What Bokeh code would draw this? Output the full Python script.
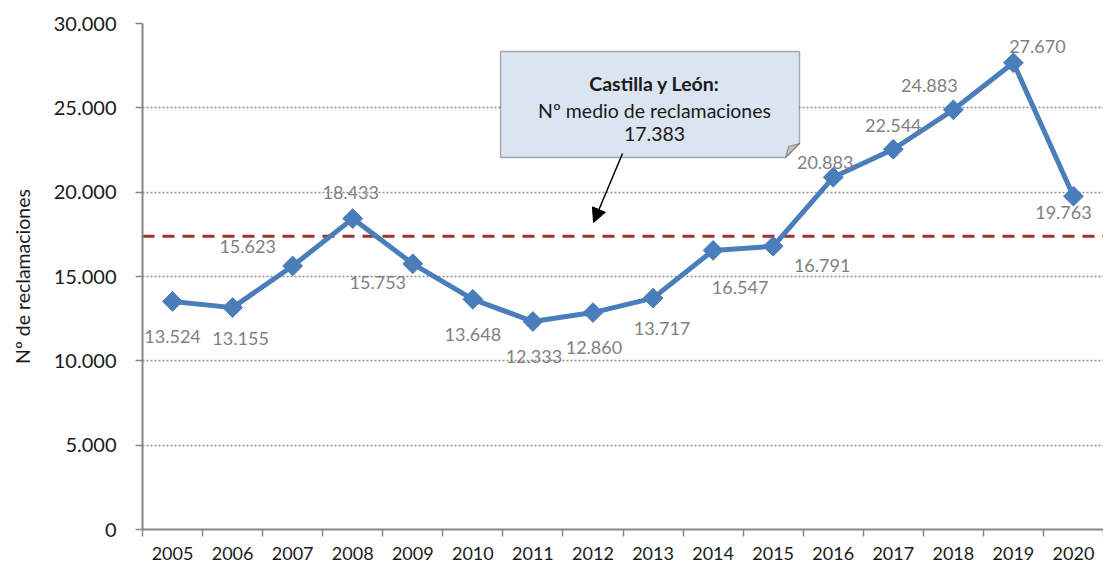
import numpy as np
from bokeh.plotting import figure
from bokeh.models import (Range1d, FixedTicker, Span, ColumnDataSource, Label,
                          Arrow, NormalHead, PolyAnnotation)
from bokeh.core.properties import value
from bokeh.embed import file_html
from bokeh.resources import INLINE

# ---------------- data ----------------
years = ["2005", "2006", "2007", "2008", "2009", "2010", "2011", "2012",
         "2013", "2014", "2015", "2016", "2017", "2018", "2019", "2020"]
reclamaciones = [13524, 13155, 15623, 18433, 15753, 13648, 12333, 12860,
                 13717, 16547, 16791, 20883, 22544, 24883, 27670, 19763]
y_ticks = [0, 5000, 10000, 15000, 20000, 25000, 30000]

# label placement (pixel offsets from each point; styling only)
label_dx = [0, 8, -45, -2, -35, 0, 1, 1, 9, 27, 49, -8, 0, -24, 24, -10]
label_dy = [35, 31, -19, -26, 19, 35, 35, 35, 30, 37, 19, -15, -24, -24, -16, 16]


def fmt(v):
    return f"{int(round(v)):,}".replace(",", ".")


mean_value = sum(reclamaciones) / len(reclamaciones)
idx = list(range(len(years)))

FONT = "Lato"
BLUE = "#4A7EBB"

src = ColumnDataSource(dict(
    x=idx, y=reclamaciones,
    lab=[fmt(v) for v in reclamaciones],
    dx=label_dx, dy=label_dy,
))

p = figure(width=1103, height=565, output_backend="svg", toolbar_location=None,
           x_range=Range1d(-0.5, len(years) - 0.5), y_range=Range1d(0, 30000),
           min_border_left=142, min_border_right=0, min_border_top=23,
           min_border_bottom=36)
p.outline_line_color = None
p.background_fill_color = "white"
p.border_fill_color = "white"

# axes
yax = p.yaxis[0]
yax.ticker = FixedTicker(ticks=y_ticks)
yax.major_label_overrides = {t: fmt(t) for t in y_ticks}
yax.axis_line_color = "#868686"
yax.axis_line_width = 2
yax.major_tick_line_color = "#868686"
yax.major_tick_line_width = 1.5
yax.major_tick_in = 0
yax.major_tick_out = 7
yax.minor_tick_line_color = None
yax.major_label_text_font = FONT
yax.major_label_text_font_size = "20px"
yax.major_label_text_color = "#1a1a1a"
yax.major_label_standoff = 19
yax.axis_label = "Nº de reclamaciones"
yax.axis_label_text_font = FONT
yax.axis_label_text_font_size = "19.5px"
yax.axis_label_text_font_style = "normal"
yax.axis_label_text_color = "#1a1a1a"
yax.axis_label_standoff = 17

xax = p.xaxis[0]
xax.ticker = FixedTicker(ticks=idx, minor_ticks=[i - 0.5 for i in range(len(years) + 1)])
xax.major_label_overrides = {i: y for i, y in zip(idx, years)}
xax.axis_line_color = "#868686"
xax.axis_line_width = 2
xax.major_tick_line_color = None
xax.major_tick_in = 0
xax.major_tick_out = 0
xax.minor_tick_line_color = "#868686"
xax.minor_tick_line_width = 1.5
xax.minor_tick_in = 0
xax.minor_tick_out = 7
xax.major_label_text_font = FONT
xax.major_label_text_font_size = "18px"
xax.major_label_text_color = "#1a1a1a"
xax.major_label_standoff = 10

p.xgrid.visible = False
p.ygrid.grid_line_color = "#8C8C8C"
p.ygrid.grid_line_dash = "2 2"
p.ygrid.grid_line_width = 1.3

# mean line
p.add_layout(Span(location=mean_value, dimension="width", line_color="#A0322D",
                  line_width=3, line_dash="12 8", level="underlay"))

# series
p.line("x", "y", source=src, line_color=BLUE, line_width=5)
p.scatter("x", "y", source=src, marker="square", angle=np.pi / 4, size=14,
          fill_color=BLUE, line_color=BLUE)
p.text("x", "y", text="lab", source=src, x_offset="dx", y_offset="dy",
       text_font=value(FONT), text_font_size="18px", text_color="#7F7F7F",
       text_align="center", text_baseline="middle")

# callout box (data coordinates)
bx0, bx1, bxf = 5.461, 10.439, 10.206
by0, by1, byf = 22055, 28340, 22886
p.add_layout(PolyAnnotation(xs=[bx0, bx1, bx1, bxf, bx0], ys=[by1, by1, byf, by0, by0],
                            fill_color="#DBE5F1", fill_alpha=1.0,
                            line_color="black", line_width=1.5))
p.add_layout(PolyAnnotation(xs=[bx1, bxf, 10.256], ys=[byf, by0, 22708],
                            fill_color="#BFBFBF", fill_alpha=1.0,
                            line_color="black", line_width=1.2))

cx = 8.025
for txt, yy, style in [("Castilla y León:", 26443, "bold"),
                       ("Nº medio de reclamaciones", 24842, "normal"),
                       (fmt(mean_value), 23478, "normal")]:
    p.add_layout(Label(x=cx, y=yy, text=txt, text_font=FONT, text_font_size="19.5px",
                       text_font_style=style, text_color="#1a1a1a",
                       text_align="center", text_baseline="middle"))

p.add_layout(Arrow(x_start=7.492, y_start=22293, x_end=7.009, y_end=18202,
                   line_color="black", line_width=1.5,
                   end=NormalHead(size=14, fill_color="black", line_color="black")))

open("out.html", "w").write(file_html(p, INLINE))
